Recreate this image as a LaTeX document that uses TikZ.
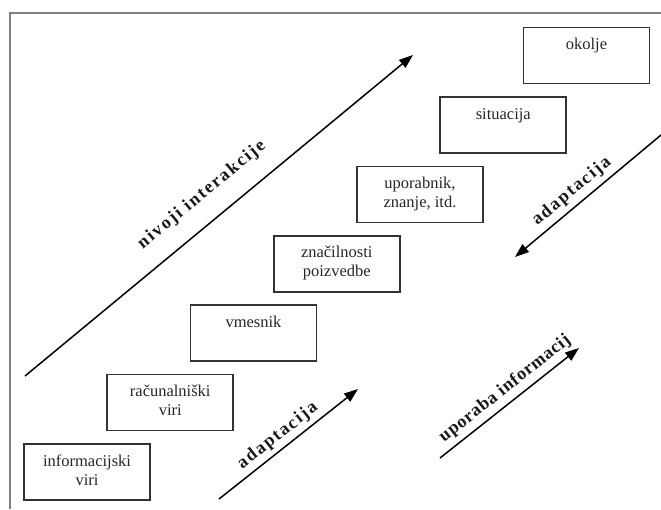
\documentclass[tikz,border=0pt]{standalone}
\usepackage{fontspec}
\setmainfont{Liberation Serif}
\newfontfamily\lblfont{Liberation Serif}[LetterSpace=10]
\newfontfamily\lblfontnarrow{Liberation Serif}[LetterSpace=4]
\usetikzlibrary{arrows.meta}

\tikzset{
  stepbox/.style={draw=black!80, line width=1.6pt, inner sep=0pt, text=black!85,
    font=\fontsize{16.5}{19}\selectfont},
  frameline/.style={draw=black!50, line width=1.5pt},
  arr/.style={draw=black, line width=1.5pt, -{Triangle[length=14pt,width=10pt]}},
  lbl/.style={sloped, anchor=south, inner xsep=0pt, text=black!90,
    font=\lblfont\bfseries\fontsize{18}{20}\selectfont},
  lbln/.style={lbl, font=\lblfontnarrow\bfseries\fontsize{18}{20}\selectfont},
}
% fixed-size box with the text set from the top
\newcommand\boxtext[1]{\parbox[c][56pt][t]{126pt}{\centering\rule{0pt}{22pt}#1}}

\begin{document}
\begin{tikzpicture}[x=1pt, y=-1pt]
  \useasboundingbox (0,0) rectangle (661,509);

  % page frame
  \coordinate (fc) at (10,13);
  \coordinate (fb) at (10,509);
  \coordinate (fr) at (661,13);
  \draw[frameline] (fb) -- (fc) -- (fr);

  % the staircase of levels
  \node[stepbox] (info) at (87,472)      {\boxtext{informacijski\\viri}};
  \node[stepbox] (racun) at (170.25,402.6) {\boxtext{računalniški\\viri}};
  \node[stepbox] (vmes) at (253.5,333.2)  {\boxtext{vmesnik}};
  \node[stepbox] (znac) at (336.75,263.8) {\boxtext{značilnosti\\poizvedbe}};
  \node[stepbox] (upor) at (420,194.4)    {\boxtext{uporabnik,\\znanje, itd.}};
  \node[stepbox] (situ) at (503.25,125)   {\boxtext{situacija}};
  \node[stepbox] (okol) at (586.5,55.6)   {\boxtext{okolje}};

  % arrow end points
  \coordinate (n0) at (25,376);
  \coordinate (n1) at (413,55);
  \coordinate (a0) at (219,499);
  \coordinate (a1) at (358,389);
  \coordinate (u0) at (440,458);
  \coordinate (u1) at (579,348);
  \coordinate (r0) at (661,135);
  \coordinate (r1) at (515,257);

  \draw[arr] (n0) -- node[lbl, pos=0.5, inner ysep=18pt] (lniv) {nivoji interakcije} (n1);
  \draw[arr] (a0) -- node[lbl, pos=0.48, inner ysep=4pt] (lada) {adaptacija} (a1);
  \draw[arr] (u0) -- node[lbln, pos=0.53, inner ysep=5pt] (lupo) {uporaba informacij} (u1);
  \draw[arr] (r0) -- node[lbl, pos=0.55, inner ysep=5pt] (ladr) {adaptacija} (r1);
\end{tikzpicture}
\end{document}
